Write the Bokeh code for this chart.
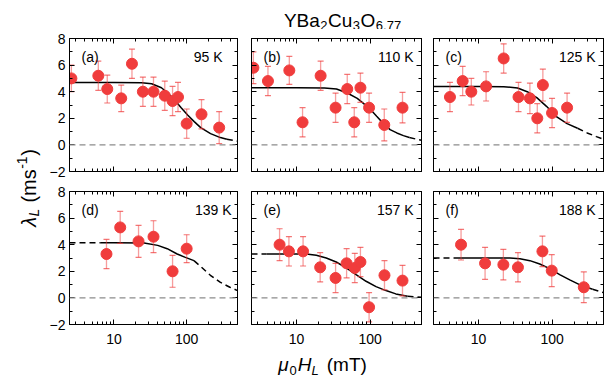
from bokeh.plotting import figure
from bokeh.models import (Range1d, LinearAxis, LogAxis, FixedTicker, Label, Span,
                          NumeralTickFormatter, BasicTickFormatter)
from bokeh.layouts import row, column
from bokeh.embed import file_html
from bokeh.resources import INLINE

FONT = "Liberation Sans"
RED = "#f03c3c"

# ---------------- data ----------------
panel_tags = ["(a)", "(b)", "(c)", "(d)", "(e)", "(f)"]
panel_temps = ["95 K", "110 K", "125 K", "139 K", "157 K", "188 K"]

a_H = [2.6, 6.1, 8.1, 12.6, 17.7, 25, 35, 50, 64, 76, 100, 160, 280]
a_lam = [5.0, 5.2, 4.2, 3.5, 6.1, 4.0, 4.0, 3.7, 3.3, 3.6, 1.6, 2.3, 1.3]
a_err = [1.0, 1.1, 1.05, 1.0, 1.1, 1.1, 1.1, 1.1, 1.1, 1.1, 1.1, 1.1, 1.2]

b_H = [2.6, 4.1, 8.0, 12.1, 21.3, 34, 49, 61, 74, 97, 156, 276]
b_lam = [5.8, 4.8, 5.6, 1.7, 5.2, 2.8, 4.2, 1.7, 4.3, 2.8, 1.5, 2.8]
b_err = [1.2, 1.1, 1.05, 1.1, 1.1, 1.1, 1.1, 1.1, 1.1, 1.1, 1.2, 1.15]

c_H = [4.1, 6.1, 8.0, 12.7, 22, 35, 50, 63, 75, 100, 160]
c_lam = [3.6, 4.8, 4.0, 4.4, 6.5, 3.6, 3.5, 2.0, 4.5, 2.4, 2.8]
c_err = [1.1, 1.1, 1.0, 1.1, 1.1, 1.1, 1.15, 1.1, 1.2, 1.1, 1.1]

d_H = [7.9, 12.2, 21.8, 35, 64, 100]
d_lam = [3.3, 5.3, 4.25, 4.6, 2.0, 3.7]
d_err = [1.1, 1.2, 1.2, 1.2, 1.2, 1.05]

e_H = [5.9, 7.9, 12.3, 21, 34, 48, 62, 74, 97, 157, 276]
e_lam = [4.0, 3.5, 3.5, 2.3, 1.5, 2.6, 2.25, 2.7, -0.7, 1.7, 1.3]
e_err = [1.2, 1.1, 1.1, 1.1, 1.1, 1.1, 1.1, 1.1, 1.1, 1.1, 1.15]

f_H = [5.8, 12.3, 21.8, 34.4, 74, 99, 270]
f_lam = [4.0, 2.6, 2.5, 2.3, 3.5, 2.05, 0.8]
f_err = [1.15, 1.2, 1.15, 1.1, 1.15, 1.2, 1.15]

# fit curves and the field span drawn solid
a_fit_H = [2.45, 10, 24, 33, 45, 55, 68, 84, 103, 127, 156, 213, 291, 357, 500]
a_fit_lam = [4.7, 4.7, 4.68, 4.6, 4.3, 3.9, 3.4, 2.8, 2.25, 1.75, 1.3, 0.85, 0.55, 0.42, 0.28]
a_solid = (2.45, 357)

b_fit_H = [2.45, 10, 24, 35, 49, 67, 82, 100, 123, 152, 187, 231, 284, 342, 500]
b_fit_lam = [4.3, 4.3, 4.28, 4.2, 3.9, 3.5, 3.1, 2.7, 2.15, 1.6, 1.15, 0.9, 0.7, 0.55, 0.35]
b_solid = (2.45, 342)

c_fit_H = [2.45, 10, 22, 34, 46, 62, 84, 116, 160, 222, 300, 400, 500]
c_fit_lam = [4.4, 4.4, 4.38, 4.28, 4.0, 3.55, 2.9, 2.1, 1.6, 1.25, 0.9, 0.62, 0.43]
c_solid = (2.45, 222)

d_fit_H = [2.45, 6.6, 10, 26, 40, 54, 74, 96, 126, 157, 212, 288, 393, 500]
d_fit_lam = [4.15, 4.15, 4.15, 4.12, 3.95, 3.7, 3.3, 3.05, 2.8, 2.35, 1.7, 1.18, 0.8, 0.55]
d_solid = (6.6, 126)

e_fit_H = [2.45, 3.9, 10, 13.6, 18.6, 25.4, 34.7, 47.4, 64.6, 88.3, 120.5, 164.5, 224, 323, 500]
e_fit_lam = [3.3, 3.3, 3.3, 3.3, 3.2, 3.0, 2.7, 2.25, 1.75, 1.25, 0.85, 0.55, 0.3, 0.12, 0.05]
e_solid = (3.9, 323)

f_fit_H = [2.45, 4.6, 10, 26.8, 36.6, 50, 68, 93, 127, 174, 236, 355, 500]
f_fit_lam = [3.0, 3.0, 3.0, 3.0, 2.95, 2.8, 2.55, 2.2, 1.75, 1.35, 1.0, 0.65, 0.4]
f_solid = (4.6, 355)

x_major = [10, 100]
x_minor = [2, 3, 4, 5, 6, 7, 8, 9, 20, 30, 40, 50, 60, 70, 80, 90, 200, 300, 400, 500]
y_major = [-2, 0, 2, 4, 6, 8]
y_minor = [-1, 1, 3, 5, 7]

panels = [
    (a_H, a_lam, a_err, a_fit_H, a_fit_lam, a_solid),
    (b_H, b_lam, b_err, b_fit_H, b_fit_lam, b_solid),
    (c_H, c_lam, c_err, c_fit_H, c_fit_lam, c_solid),
    (d_H, d_lam, d_err, d_fit_H, d_fit_lam, d_solid),
    (e_H, e_lam, e_err, e_fit_H, e_fit_lam, e_solid),
    (f_H, f_lam, f_err, f_fit_H, f_fit_lam, f_solid),
]

# ---------------- layout (page pixels, page origin at 0,0) ----------------
FW, FH = 170, 133
YLAB_W = 46
col_borders = [(21, 7), (7, 5), (7, 4)]
row_borders = [(9, 10), (10, 27)]
TITLE_H = 29
XLAB_H = 27
GRID_W = sum(l + FW + r for l, r in col_borders)
TOTAL_H = TITLE_H + sum(t + FH + b for t, b in row_borders) + XLAB_H
BASE_FIX = 0.25  # observed baseline drop of label text (fraction of font size)

# Arial / Liberation Sans advance widths (per 1000 em)
ADV = {" ": 278, "(": 333, ")": 333, "-": 333, ".": 278, "B": 667, "C": 722, "H": 722,
       "K": 667, "L": 556, "O": 778, "T": 611, "Y": 667, "a": 556, "m": 833, "s": 500,
       "u": 556, "\u03bc": 576, "\u03bb": 520}
for d in "0123456789":
    ADV[d] = 556


def tw(text, size):
    return sum(ADV.get(ch, 556) for ch in text) * size / 1000.0


def style_axis(ax, show):
    ax.major_tick_in = 5
    ax.major_tick_out = 0
    ax.minor_tick_in = 3
    ax.minor_tick_out = 0
    ax.axis_line_color = "black"
    ax.major_tick_line_color = "black"
    ax.minor_tick_line_color = "black"
    ax.major_label_text_font = FONT
    if show:
        ax.major_label_text_color = "black"
        ax.major_label_text_font_size = "14px"
        ax.major_label_standoff = 9
    else:
        ax.major_label_text_color = None
        ax.major_label_text_font_size = "1px"
        ax.major_label_standoff = 0


def blank_fig(w, h):
    f = figure(frame_width=w, frame_height=h, title=None, output_backend="svg",
               toolbar_location=None, x_axis_location=None, y_axis_location=None,
               min_border=0, x_range=Range1d(0, 1), y_range=Range1d(0, 1))
    f.outline_line_color = None
    f.xgrid.visible = False
    f.ygrid.visible = False
    f.background_fill_color = "white"
    f.border_fill_color = "white"
    return f


def make_panel(i):
    r, c = divmod(i, 3)
    bl, br = col_borders[c]
    bt, bb = row_borders[r]
    H, lam, err, fH, flam, solid = panels[i]
    p = figure(width=bl + FW + br, height=bt + FH + bb, x_axis_type="log",
               x_range=Range1d(2.45, 500), y_range=Range1d(-2, 8),
               output_backend="svg", toolbar_location=None,
               min_border_left=bl, min_border_right=br,
               min_border_top=bt, min_border_bottom=bb)
    p.background_fill_color = "white"
    p.border_fill_color = "white"
    p.outline_line_color = "black"
    p.outline_line_width = 1
    p.xgrid.visible = False
    p.ygrid.visible = False

    top = LogAxis()
    right = LinearAxis()
    p.add_layout(top, "above")
    p.add_layout(right, "right")
    for ax in (p.below[0], top):
        ax.ticker = FixedTicker(ticks=x_major, minor_ticks=x_minor)
        ax.formatter = NumeralTickFormatter(format="0")
    for ax in (p.left[0], right):
        ax.ticker = FixedTicker(ticks=y_major, minor_ticks=y_minor)
        ax.formatter = BasicTickFormatter()
    style_axis(p.below[0], r == 1)
    style_axis(p.left[0], c == 0)
    style_axis(top, False)
    style_axis(right, False)
    p.left[0].major_label_standoff = 4

    p.add_layout(Span(location=0, dimension="width", line_color="#8c8c8c",
                      line_dash="6 4", line_width=1.2))

    lo, hi = solid
    sx = [h for h in fH if lo <= h <= hi]
    sy = [v for h, v in zip(fH, flam) if lo <= h <= hi]
    p.line(sx, sy, line_color="black", line_width=1.5)
    lx = [h for h in fH if h <= lo]
    ly = [v for h, v in zip(fH, flam) if h <= lo]
    if len(lx) > 1:
        p.line(lx, ly, line_color="black", line_width=1.5, line_dash="6 4")
    rx = [h for h in fH if h >= hi]
    ry = [v for h, v in zip(fH, flam) if h >= hi]
    if len(rx) > 1:
        p.line(rx, ry, line_color="black", line_width=1.5, line_dash="6 4")

    lower = [v - e for v, e in zip(lam, err)]
    upper = [v + e for v, e in zip(lam, err)]
    p.segment(x0=H, y0=lower, x1=H, y1=upper, line_color=RED, line_alpha=0.5, line_width=1.3)
    p.scatter(H, lower, marker="dash", size=6, line_color=RED, line_alpha=0.7, line_width=1.2)
    p.scatter(H, upper, marker="dash", size=6, line_color=RED, line_alpha=0.7, line_width=1.2)
    p.scatter(H, lam, marker="circle", size=11, fill_color=RED, line_color=RED)

    ty = FH - 21.5 + BASE_FIX * 14
    p.add_layout(Label(x=12, y=ty, x_units="screen", y_units="screen",
                       text=panel_tags[i], text_font=FONT, text_font_size="14px",
                       text_color="black", text_baseline="alphabetic", text_align="left"))
    inset = 17 if i == 0 else 8
    p.add_layout(Label(x=FW - inset, y=ty, x_units="screen", y_units="screen",
                       text=panel_temps[i], text_font=FONT, text_font_size="14px",
                       text_color="black", text_baseline="alphabetic", text_align="right"))
    return p


figs = [make_panel(i) for i in range(6)]


def pieces_width(pieces):
    return sum(g + tw(t, s) for t, s, _, _, g in pieces)


def add_pieces(p, pieces, x0, y0, angle=0.0):
    """pieces: (text, size, style, baseline shift (+ = up in text frame), gap before)"""
    pos = 0.0
    for text, size, style, shift, gap in pieces:
        pos += gap
        lift = shift + BASE_FIX * size
        if angle == 0.0:
            x, y = x0 + pos, y0 + lift
        else:
            x, y = x0 - lift, y0 + pos
        p.add_layout(Label(x=x, y=y, x_units="screen", y_units="screen", text=text,
                           text_font=FONT, text_font_size=f"{size}px", text_font_style=style,
                           text_color="black", text_baseline="alphabetic", text_align="left",
                           angle=angle, angle_units="deg"))
        pos += tw(text, size)


GRID_X0 = YLAB_W  # page x of grid's left edge

# title strip
title_fig = blank_fig(GRID_W, TITLE_H)
title_pieces = [("YBa", 19, "normal", 0, 0), ("2", 13, "normal", -3.5, 0.5),
                ("Cu", 19, "normal", 0, 0.5), ("3", 13, "normal", -3.5, 0.5),
                ("O", 19, "normal", 0, 0.5), ("6.77", 13, "normal", -3.5, 0.5)]
add_pieces(title_fig, title_pieces, 342 - GRID_X0 - pieces_width(title_pieces) / 2,
           TITLE_H - 24.7)

# x-axis label strip
xlab_fig = blank_fig(GRID_W, XLAB_H)
xl_pieces = [("\u03bc", 19, "italic", 0, 0), ("0", 13, "normal", -4, 0.5),
             ("H", 19, "italic", 0, 1), ("L", 13, "italic", -4, 0),
             ("(mT)", 19, "normal", 0, 8)]
add_pieces(xlab_fig, xl_pieces, 322 - GRID_X0 - pieces_width(xl_pieces) / 2, TOTAL_H - 369)

# y-axis label strip
ylab = blank_fig(YLAB_W, TOTAL_H)
yl_pieces = [("\u03bb", 20, "italic", 0, 0), ("L", 14, "italic", -4, 0),
             ("(ms", 20, "normal", 0, 6), ("-1", 14, "normal", 8, 0.5),
             (")", 20, "normal", 0, 0.5)]
add_pieces(ylab, yl_pieces, 33, (TOTAL_H - 187.5) - pieces_width(yl_pieces) / 2, angle=90.0)

layout = row(ylab, column(title_fig, row(*figs[:3]), row(*figs[3:]), xlab_fig))

with open("out.html", "w") as fh:
    fh.write(file_html(layout, INLINE))
